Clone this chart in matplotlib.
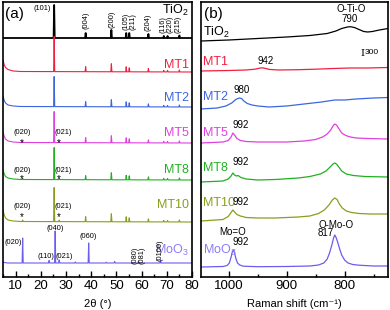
import numpy as np
import matplotlib
matplotlib.use("Agg")
import matplotlib.pyplot as plt
from matplotlib.ticker import MultipleLocator

plt.rcParams['font.family'] = ['Liberation Sans', 'DejaVu Sans']
plt.rcParams['mathtext.fontset'] = 'custom'
plt.rcParams['mathtext.rm'] = 'Liberation Sans'

# ---------------- data ----------------
samples = ["TiO$_2$", "MT1", "MT2", "MT5", "MT8", "MT10", "MoO$_3$"]
colors = ["#000000", "#f02040", "#3c66e0", "#e040e0", "#22b022", "#8c9c1c", "#6c5cf0"]
label_colors = ["#000000", "#f02040", "#3c66e0", "#e040e0", "#22b022", "#8c9c1c", "#8c7cf4"]

# XRD: anatase peak positions (2theta) and heights per sample
anatase_pos = [25.3, 37.8, 48.0, 53.9, 55.1, 62.7, 68.8, 70.3, 75.0]
anatase_h = {
    "TiO$_2$": [33, 5, 8, 5, 5, 4, 2, 2, 2.5],
    "MT1": [35, 5, 8, 5, 4, 3.5, 1.5, 1.5, 2],
    "MT2": [30, 5, 7, 5, 4, 3, 1.5, 1.5, 2],
    "MT5": [31, 5, 7, 5, 4, 3, 1.5, 1.5, 2],
    "MT8": [32, 4, 7, 4.5, 4, 3, 1.5, 1.5, 2],
    "MT10": [34, 5, 8, 5, 4, 3, 1.5, 1.5, 2],
}
moo3_pos = [12.8, 23.3, 25.7, 27.3, 33.7, 39.0, 46.0, 49.3, 58.8, 67.5]
moo3_h = [25, 2.5, 32, 3, 1, 20, 0.8, 1.5, 1.5, 2.5]
# small MoO3 (020)/(021) reflections in composites
mo_in_mt_pos = [12.8, 27.3]
mo_in_mt_h = {"MT5": [1, 1], "MT8": [1, 1], "MT10": [1.5, 1.5]}
# low-angle background rise (2theta, intensity)
lowangle_x = [5.0, 5.5, 6.0, 7.0, 9.0, 12.0, 80.0]
lowangle_y = {
    "TiO$_2$": [0, 0, 0, 0, 0, 0, 0],
    "MT1": [12, 7, 4.5, 2.5, 1, 0.5, 0],
    "MT2": [11, 6.5, 4, 2, 1, 0.5, 0],
    "MT5": [11, 6.5, 4, 2, 1, 0.5, 0],
    "MT8": [10, 6, 3.5, 2, 1, 0.5, 0],
    "MT10": [12, 7, 4, 2, 1, 0.5, 0],
    "MoO$_3$": [1, 0.5, 0.3, 0, 0, 0, 0],
}
xrd_offsets = [239, 205, 170, 134, 97, 55, 14]

# Raman (wavenumber, relative intensity)
raman = {
    "TiO$_2$": ([1048, 1000, 950, 900, 860, 830, 815, 805, 795, 790, 783, 775, 767, 760, 752, 740, 725],
                [0, 1, 2.5, 4, 5.5, 7.5, 10, 12.5, 14, 14.3, 13.5, 11.5, 9.5, 9, 9.5, 11, 12.5]),
    "MT1": ([1048, 1000, 970, 955, 947, 942, 937, 930, 915, 880, 850, 820, 790, 760, 725],
            [0, 0.5, 1, 1.8, 2.8, 3.2, 2.6, 1.6, 1, 1.3, 1.8, 2.5, 3, 3, 3.5]),
    "MT2": ([1048, 1020, 1005, 995, 988, 982, 978, 974, 968, 960, 950, 930, 900, 870, 840, 817, 800, 780, 750, 725],
            [0, 1, 3, 6, 9.5, 11, 10.5, 8, 5.5, 4, 3, 2, 3, 5, 7, 9, 9, 10, 11, 11.5]),
    "MT5": ([1048, 1010, 1001, 996, 993, 990, 986, 980, 970, 950, 900, 870, 850, 838, 830, 824, 820, 817, 814, 810, 805, 798, 790, 780, 760, 725],
            [0, 1, 2.5, 6, 10, 8, 4.5, 2.5, 1.5, 1, 1, 2, 3.5, 6, 9, 13, 17, 19, 18, 14.5, 10, 7.5, 6, 5, 4.5, 4]),
    "MT8": ([1048, 1010, 1001, 996, 993, 990, 987, 984, 979, 970, 950, 920, 880, 860, 842, 832, 825, 820, 817, 814, 810, 805, 797, 785, 765, 725],
            [0, 1, 3, 6, 9, 7, 6, 6.5, 4.5, 3, 2, 2.5, 4, 5.5, 8, 11, 15, 18, 19, 18, 15, 11, 8, 6.5, 5.5, 5]),
    "MT10": ([1048, 1010, 1001, 996, 993, 990, 986, 980, 970, 950, 920, 880, 860, 845, 835, 827, 821, 817, 813, 809, 804, 797, 788, 775, 755, 725],
             [0, 1.5, 4.5, 8.5, 11, 9, 6.5, 5, 3.5, 3, 3, 4, 5, 7.5, 11, 16, 21, 23, 21.5, 17, 13, 10, 8.5, 7.5, 7, 7]),
    "MoO$_3$": ([1048, 1010, 1003, 999, 996, 994, 992, 990, 988, 985, 981, 975, 950, 900, 860, 845, 836, 830, 826, 822, 819, 817, 815, 812, 809, 805, 800, 794, 786, 775, 750, 725],
                [0, 0.5, 1.5, 4, 10, 15, 17, 14, 9, 4, 2, 0.8, 0.3, 0.5, 1, 2, 4, 8, 14, 22, 29, 32, 30, 25, 19, 12, 7, 4, 2.5, 1.8, 1, 1]),
}
raman_offsets = [236, 206, 168, 134, 95, 56, 10]

# ---------------- figure ----------------
fig = plt.figure(figsize=(3.9, 3.1), dpi=100)
axa = fig.add_axes([3 / 390, 33 / 310, 189 / 390, 275 / 310])
axb = fig.add_axes([201 / 390, 33 / 310, 187 / 390, 275 / 310])


def xrd_curve(name):
    pos, hts = [], []
    if name in anatase_h:
        pos += anatase_pos
        hts += anatase_h[name]
    if name == "MoO$_3$":
        pos += moo3_pos
        hts += moo3_h
    if name in mo_in_mt_h:
        pos += mo_in_mt_pos
        hts += mo_in_mt_h[name]
    xs = list(lowangle_x)
    ys = list(lowangle_y[name])
    w = 0.22
    for p, h in zip(pos, hts):
        b = float(np.interp(p, lowangle_x, lowangle_y[name]))
        xs += [p - w, p, p + w]
        ys += [b, b + h, b]
    order = np.argsort(xs, kind="stable")
    return np.array(xs)[order], np.array(ys)[order]


for i, name in enumerate(samples):
    x, y = xrd_curve(name)
    axa.plot(x, y + xrd_offsets[i], color=colors[i], lw=1.3 if i == 0 else 0.8)

axa.set_xlim(5, 80)
axa.set_ylim(0, 275)
axa.xaxis.set_major_locator(MultipleLocator(10))
axa.xaxis.set_minor_locator(MultipleLocator(5))
axa.set_yticks([])
axa.tick_params(axis='x', direction='in', length=4, width=1, labelsize=9.5, pad=2)
axa.tick_params(axis='x', which='minor', direction='in', length=2.5, width=1)
axa.set_xlabel("2θ (°)", fontsize=8, labelpad=5)

lab_pos_a = [267, 212, 179, 144, 107, 72, 27]
for i, name in enumerate(samples):
    axa.text(78.8, lab_pos_a[i], name, color=label_colors[i], fontsize=9, ha='right', va='center')
axa.text(5.8, 263, "(a)", fontsize=11, va='center')

fs_m = 5.3
axa.text(24.0, 269, "(101)", fontsize=fs_m, ha='right', va='center')
rot_labels = [(37.8, "(004)", 248), (48.4, "(200)", 249), (54.0, "(105)", 247), (56.5, "(211)", 247),
              (62.6, "(204)", 246), (68.5, "(116)", 244), (71.3, "(220)", 244), (74.6, "(215)", 244)]
for xp, t, yb in rot_labels:
    axa.text(xp, yb, t, fontsize=fs_m, rotation=90, ha='center', va='bottom')
for y020, yst in [(145, 137), (107, 101), (70, 63)]:
    axa.text(12.6, y020, "(020)", fontsize=fs_m, ha='center', va='center')
    axa.text(12.6, yst - 3, "*", fontsize=7, ha='center', va='center')
    axa.text(25.6, y020, "(021)", fontsize=fs_m, ha='left', va='center')
    axa.text(27.0, yst - 3, "*", fontsize=7, ha='center', va='center')
axa.text(5.4, 35, "(020)", fontsize=fs_m, ha='left', va='center')
axa.text(25.6, 49, "(040)", fontsize=fs_m, ha='center', va='center')
axa.text(39.0, 40, "(060)", fontsize=fs_m, ha='center', va='center')
axa.text(18.5, 20, "(110)", fontsize=fs_m, ha='left', va='center')
axa.text(26.0, 20, "(021)", fontsize=fs_m, ha='left', va='center')
axa.text(57.5, 13, "(080)", fontsize=fs_m, rotation=90, ha='center', va='bottom')
axa.text(60.3, 13, "(081)", fontsize=fs_m, rotation=90, ha='center', va='bottom')
axa.text(67.5, 16, "(0100)", fontsize=fs_m, rotation=90, ha='center', va='bottom')

# Raman
for i, name in enumerate(samples):
    x, y = raman[name]
    axb.plot(x, np.array(y) + raman_offsets[i], color=colors[i], lw=0.9)

axb.set_xlim(1048, 725)
axb.set_ylim(0, 275)
axb.xaxis.set_major_locator(MultipleLocator(100))
axb.xaxis.set_minor_locator(MultipleLocator(50))
axb.set_yticks([])
axb.tick_params(axis='x', direction='in', length=4, width=1, labelsize=9.5, pad=2)
axb.tick_params(axis='x', which='minor', direction='in', length=2.5, width=1)
axb.set_xlabel("Raman shift (cm\u207b\u00b9)", fontsize=8, labelpad=5,
               family=['Liberation Sans', 'DejaVu Sans'])

lab_pos_b = [245, 215, 180, 144, 109, 74, 27]
for i, name in enumerate(samples):
    axb.text(1045, lab_pos_b[i], name, color=label_colors[i], fontsize=9, ha='left', va='center')
axb.text(1043, 263, "(b)", fontsize=11, va='center')

fs_r = 7
axb.text(788, 268, "O-Ti-O", fontsize=fs_r, ha='center', va='center')
axb.text(792, 258, "790", fontsize=fs_r, ha='center', va='center')
axb.text(936, 216, "942", fontsize=fs_r, ha='center', va='center')
axb.text(978, 187, "980", fontsize=fs_r, ha='center', va='center')
for yv in [152, 115, 75]:
    axb.text(979, yv, "992", fontsize=fs_r, ha='center', va='center')
axb.text(993, 45, "Mo=O", fontsize=fs_r, ha='center', va='center')
axb.text(979, 35, "992", fontsize=fs_r, ha='center', va='center')
axb.text(814, 52, "O-Mo-O", fontsize=fs_r, ha='center', va='center')
axb.text(833, 44, "817", fontsize=fs_r, ha='center', va='center')
axb.text(770, 224, "I", fontsize=7, family='DejaVu Serif', ha='center', va='center')
axb.text(766, 224, "300", fontsize=6, ha='left', va='center')

for ax in (axa, axb):
    for s in ax.spines.values():
        s.set_linewidth(1.2)

fig.savefig("out.png", dpi=100)
